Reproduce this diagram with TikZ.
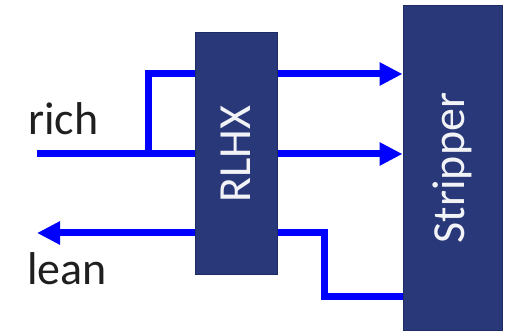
\documentclass[tikz,border=0pt]{standalone}
\usepackage{fontspec}
\setmainfont{Carlito}
\usetikzlibrary{arrows.meta}
\definecolor{unitblue}{HTML}{283879}
\definecolor{unitedge}{HTML}{1E2C66}
\tikzset{
  unit/.style={draw=unitedge,line width=1bp,fill=unitblue,text=white!94!unitblue,inner sep=0pt,font=\fontsize{46bp}{50bp}\selectfont},
  pipe/.style={blue,line width=7bp},
  lbl/.style={font=\fontsize{46bp}{50bp}\selectfont,text=black!88,inner sep=0pt},
}
\begin{document}
\begin{tikzpicture}[>={Triangle[length=23bp,width=22bp]},line join=miter,]
%%
\useasboundingbox (0bp,0bp) rectangle (506bp,331bp);
\node (rlhx) at (236.0bp,177.0bp) [unit,minimum width=82bp,minimum height=242bp] {\rotatebox{90}{RLHX}};
  \node (stripper) at (452.5bp,163.0bp) [unit,minimum width=99bp,minimum height=324bp] {\rotatebox{90}{Stripper}};
  \node (rich) at (28.0bp,196.0bp) [lbl,anchor=base west] {rich};
  \node (lean) at (27.0bp,46.0bp) [lbl,anchor=base west] {lean};
%
  \coordinate (richin) at (37.0bp,177.0bp);
  \coordinate (split) at (148.0bp,177.0bp);
  \coordinate (bypass) at (148.0bp,257.0bp);
  \coordinate (leanout) at (37.0bp,98.0bp);
  \coordinate (drop) at (324.0bp,98.0bp);
  \coordinate (bottom) at (324.0bp,34.0bp);
%
  \draw [pipe] (richin) -- (rlhx.west);
  \draw [pipe] (split) -- (bypass) -- (rlhx.west |- bypass);
  \draw [pipe,->] (rlhx.east |- bypass) -- (stripper.west |- bypass);
  \draw [pipe,->] (rlhx.east) -- (stripper.west |- rlhx.east);
  \draw [pipe,->] (rlhx.west |- leanout) -- (leanout);
  \draw [pipe] (rlhx.east |- drop) -- (drop) -- (bottom) -- (stripper.west |- bottom);
%
\end{tikzpicture}
\end{document}
